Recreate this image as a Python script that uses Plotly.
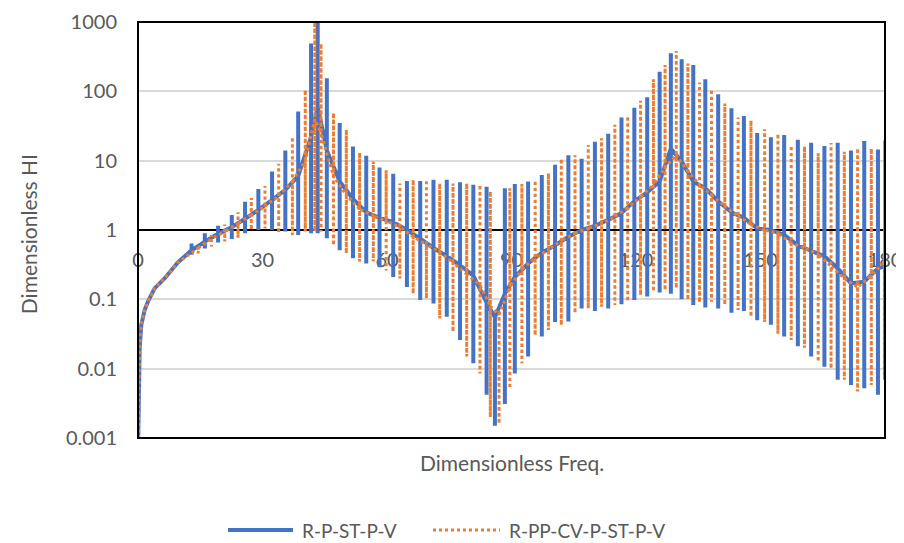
import plotly.graph_objects as go

# ---------------- data ----------------
# smooth start of both curves (before the oscillations begin)
lead_x = [0.05, 0.4, 0.8, 1.6, 2.4, 4.0, 6.4, 9.6]
lead_y = [0.001, 0.0196, 0.043, 0.07, 0.093, 0.144, 0.2, 0.34]

# R-P-ST-P-V : spike position, spike top, spike bottom, background level
blue_x = [12.9, 16.1, 19.3, 22.6, 25.8, 29.0, 32.3, 35.5, 38.6, 41.7, 43.3, 45.5,
          48.6, 51.8, 55.0, 58.2, 61.5, 64.8, 68.0, 71.2, 74.4, 77.6, 80.8, 84.0,
          86.0, 88.4, 90.8, 94.0, 97.3, 100.5, 103.7, 106.9, 110.1, 113.3, 116.5,
          119.6, 122.7, 125.7, 128.4, 131.0, 133.8, 136.7, 139.8, 143.0, 146.0,
          149.2, 152.5, 155.7, 159.0, 162.2, 165.4, 168.6, 171.8, 175.0, 178.3, 180.0]
blue_top = [0.64, 0.9, 1.15, 1.64, 2.56, 3.9, 7.0, 14, 51, 490, 1500, 155,
            35, 16, 11.8, 8.0, 6.5, 5.1, 5.1, 5.3, 5.3, 4.9, 4.5, 4.2,
            0.06, 4.0, 4.6, 5.0, 6.2, 8.7, 12, 10.7, 18.8, 24.5, 42,
            58, 82, 192, 355, 290, 240, 149, 91, 57, 44,
            25, 21.8, 23.4, 20, 18.2, 16.3, 18.2, 14, 19.2, 14.5, 0.3]
blue_bottom = [0.44, 0.54, 0.66, 0.74, 0.9, 1.0, 1.0, 0.95, 0.85, 0.9, 0.9, 0.76,
               0.51, 0.39, 0.33, 0.29, 0.21, 0.15, 0.098, 0.087, 0.056, 0.026, 0.012, 0.0042,
               0.0015, 0.0031, 0.0085, 0.015, 0.029, 0.047, 0.048, 0.074, 0.068, 0.074, 0.085,
               0.098, 0.11, 0.125, 0.12, 0.1, 0.083, 0.076, 0.074, 0.064, 0.068,
               0.05, 0.043, 0.029, 0.021, 0.015, 0.0107, 0.0069, 0.0058, 0.0052, 0.0042, 0.007]
blue_bg = [0.51, 0.68, 0.88, 1.1, 1.45, 1.95, 2.7, 3.8, 6.0, 22, 60, 14,
           5.0, 2.8, 1.8, 1.5, 1.3, 1.0, 0.75, 0.55, 0.42, 0.31, 0.22, 0.09,
           0.055, 0.12, 0.21, 0.33, 0.47, 0.6, 0.8, 1.0, 1.15, 1.4, 1.75,
           2.6, 3.5, 5.0, 15, 9.7, 5.0, 4.0, 2.6, 1.8, 1.5,
           1.05, 1.0, 0.85, 0.6, 0.5, 0.42, 0.28, 0.17, 0.18, 0.28, 0.3]

# R-PP-CV-P-ST-P-V
orange_x = [14.5, 17.7, 20.9, 24.1, 27.3, 30.6, 33.9, 37.2, 40.3, 42.6, 44.1, 47.1,
            50.2, 53.4, 56.7, 59.8, 63.1, 66.3, 69.5, 72.7, 75.9, 79.2, 82.4, 84.9,
            87.0, 89.6, 92.5, 95.7, 98.9, 102.0, 105.3, 108.5, 111.7, 114.9, 118.0,
            121.1, 124.2, 127.0, 129.7, 132.5, 135.3, 138.2, 141.4, 144.6, 147.7,
            151.0, 154.2, 157.4, 160.6, 163.9, 167.0, 170.2, 173.4, 176.7, 179.9]
orange_top = [0.6, 0.85, 1.2, 1.8, 2.9, 4.3, 9.0, 22, 105, 1500, 490, 49,
              28, 13, 9.7, 7.3, 4.7, 5.3, 5.3, 4.7, 4.7, 4.7, 4.5, 3.6,
              0.07, 4.0, 4.6, 5.2, 6.6, 10.7, 12, 16.8, 21, 33, 44,
              73, 149, 240, 383, 253, 134, 107, 67, 42, 38,
              28.5, 24.5, 16.5, 16, 12.8, 18, 13.5, 15.2, 15, 19.5]
orange_bottom = [0.46, 0.58, 0.68, 0.77, 1.0, 1.05, 0.9, 0.85, 0.95, 0.95, 0.95, 0.6,
                 0.46, 0.35, 0.35, 0.26, 0.2, 0.12, 0.103, 0.053, 0.034, 0.015, 0.0085, 0.002,
                 0.0016, 0.0052, 0.012, 0.03, 0.036, 0.042, 0.063, 0.074, 0.078, 0.083, 0.093,
                 0.115, 0.13, 0.135, 0.144, 0.098, 0.09, 0.092, 0.083, 0.07, 0.056,
                 0.047, 0.032, 0.026, 0.02, 0.0126, 0.01, 0.0069, 0.0047, 0.0058, 0.0069]
orange_bg = [0.55, 0.75, 0.95, 1.25, 1.65, 2.2, 3.1, 5.0, 10, 40, 25, 6.0,
             3.2, 2.0, 1.6, 1.35, 1.1, 0.8, 0.62, 0.48, 0.34, 0.23, 0.16, 0.08,
             0.06, 0.15, 0.27, 0.4, 0.52, 0.7, 0.9, 1.05, 1.25, 1.55, 2.1,
             3.0, 4.5, 8.0, 12, 7.0, 4.5, 3.2, 2.2, 1.6, 1.2,
             1.0, 0.9, 0.65, 0.55, 0.45, 0.3, 0.2, 0.15, 0.22, 0.35]

series_names = ["R-P-ST-P-V", "R-PP-CV-P-ST-P-V"]
x_ticks = [0, 30, 60, 90, 120, 150, 180]
y_ticks = [0.001, 0.01, 0.1, 1, 10, 100, 1000]
y_tick_text = ["0.001", "0.01", "0.1", "1", "10", "100", "1000"]


def build_path(sx, stop, sbot, sbg):
    xs, ys = list(lead_x), list(lead_y)
    for x, t, b, g in zip(sx, stop, sbot, sbg):
        xs += [x, x, x, x]
        ys += [g, t, b, g]
    return xs, ys


bx, by = build_path(blue_x, blue_top, blue_bottom, blue_bg)
ox, oy = build_path(orange_x, orange_top, orange_bottom, orange_bg)

FONT = "Lato, 'Liberation Sans', sans-serif"
GREY = "#595959"
BLUE = "#4472C4"
ORANGE = "#ED7D31"

fig = go.Figure()
fig.add_trace(go.Scatter(x=bx, y=by, mode="lines", name=series_names[0],
                         line=dict(color=BLUE, width=4), showlegend=False))
fig.add_trace(go.Scatter(x=ox, y=oy, mode="lines", name=series_names[1],
                         line=dict(color=ORANGE, width=3, dash="dot"), showlegend=False))

# legend drawn as line samples + text below the plot (Excel-style long samples)
leg_y = -0.2212
shapes = [
    dict(type="rect", xref="paper", yref="paper", x0=0, x1=1, y0=0, y1=1,
         line=dict(color="black", width=2), layer="above"),
    dict(type="line", xref="paper", yref="paper", x0=0.1205, x1=0.2075, y0=leg_y, y1=leg_y,
         line=dict(color=BLUE, width=4)),
    dict(type="line", xref="paper", yref="paper", x0=0.3949, x1=0.4846, y0=leg_y, y1=leg_y,
         line=dict(color=ORANGE, width=3, dash="dot")),
]

annotations = [
    dict(text="Dimensionless Freq.", xref="paper", yref="paper", x=0.5, y=-0.058,
         xanchor="center", yanchor="middle", showarrow=False,
         font=dict(family=FONT, size=21, color=GREY)),
    dict(text="Dimensionless HI", xref="paper", yref="paper", x=0, y=0.49,
         xshift=-110, xanchor="center", yanchor="middle", textangle=-90,
         showarrow=False, font=dict(family=FONT, size=21, color=GREY)),
    dict(text=series_names[0], xref="paper", yref="paper", x=0.2169, y=leg_y,
         xanchor="left", yanchor="middle", showarrow=False,
         font=dict(family=FONT, size=19, color=GREY)),
    dict(text=series_names[1], xref="paper", yref="paper", x=0.4940, y=leg_y,
         xanchor="left", yanchor="middle", showarrow=False,
         font=dict(family=FONT, size=19, color=GREY)),
]

# the page adds an 8px body margin, so the figure is 8px smaller and shifted
fig.update_layout(
    width=896, height=535,
    margin=dict(l=130, r=19, t=14, b=105, autoexpand=False),
    paper_bgcolor="white", plot_bgcolor="white",
    font=dict(family=FONT, color=GREY, size=20),
    showlegend=False,
    xaxis=dict(range=[0, 180], tickvals=x_ticks, ticktext=[str(v) for v in x_ticks],
               anchor="free", position=0.5, showline=True, linecolor="black", linewidth=2,
               showgrid=False, zeroline=False, ticks="", ticklabelstandoff=12,
               automargin=False,
               tickfont=dict(family=FONT, size=20, color=GREY), layer="below traces"),
    yaxis=dict(type="log", range=[-3, 3], tickvals=y_ticks, ticktext=y_tick_text,
               showgrid=True, gridcolor="#d9d9d9", gridwidth=1.5, showline=False,
               zeroline=False, ticks="", ticklabelstandoff=20, automargin=False,
               tickfont=dict(family=FONT, size=20, color=GREY), layer="below traces"),
    shapes=shapes,
    annotations=annotations,
)

fig.write_html("out.html")
